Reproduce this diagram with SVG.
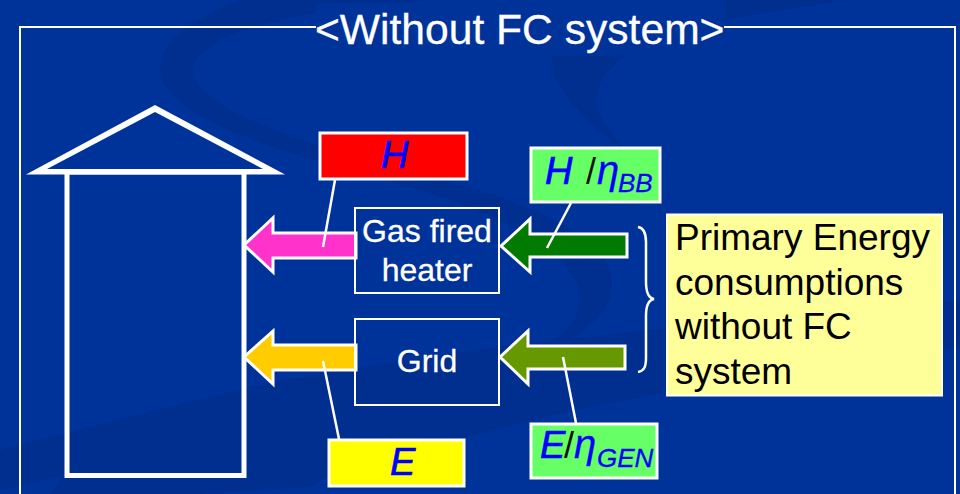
<svg xmlns="http://www.w3.org/2000/svg" width="960" height="494" viewBox="0 0 960 494">
<style>
text{font-family:"Liberation Sans",Arial,sans-serif}
.w{fill:#fff;stroke:#fff;stroke-width:.3}
.b{fill:#00f;font-style:italic;stroke:#00f;stroke-width:.7}
.box{stroke:#fff;stroke-width:3}
.out{fill:none;stroke:#fff;stroke-width:2}
.arr{stroke:#fff;stroke-width:3}
.call{stroke:#fff;stroke-width:2.5;fill:none}
.sw{fill:#002f8f}
</style>
<rect width="960" height="494" fill="#003399"/>
<g id="background">
<path class="sw" d="M240 0C195 18 160 40 160 68C160 108 240 138 320 162C400 185 500 205 560 260C592 292 585 325 543 345C575 342 608 322 612 285C612 240 540 205 440 180C320 150 193 110 193 70C193 45 250 22 320 13L430 0Z"/>
<path class="sw" d="M552 56L625 56C600 75 590 95 600 115C606 128 618 140 630 155C590 125 550 90 552 56Z"/>
<path class="sw" d="M725 20C760 14 800 6 850 0L725 0Z"/>
<path class="sw" d="M0 450C120 420 240 385 360 367C560 335 760 320 960 300L960 347C800 365 600 400 467 437C380 460 330 470 310 487L200 494H50L67 470C160 445 260 415 360 393L353 403C250 425 100 470 0 490Z"/>
</g>
<g id="frame">
<path class="out" d="M316 27H20V494M724 27H955V494"/>
<rect x="316" y="3" width="408" height="52" fill="#003399"/>
<text class="w" x="315" y="44" font-size="42.600" stroke-width=".5">&lt;Without FC system&gt;</text>
</g>
<g id="house">
<path fill="#fff" fill-rule="evenodd" d="M26 174.500L155 105L285 174.500ZM47 169L263 169L155 112Z"/>
<rect x="67" y="172" width="177" height="303.500" fill="none" stroke="#fff" stroke-width="5"/>
</g>
<g id="connectors">
<path class="arr" fill="#ff33cc" d="M356 233H273V218L244 245L273 272V258H356Z"/>
<path class="arr" fill="#ffcc00" d="M356 345H273V331L244 357L273 384V370H356Z"/>
<path class="arr" fill="#007a00" d="M627 234H530V219L501 246L530 272V257H627Z"/>
<path class="arr" fill="#669900" d="M625 346H528V331L500 357L528 384V369H625Z"/>
<path class="call" d="M335 180L323 247"/>
<path class="call" d="M571 203L547 248"/>
<path class="call" d="M323 361L339 439"/>
<path class="call" d="M563 357L576 423"/>
<path class="call" d="M638 227C644 228 646 233 646 242V282C646 292 648 298 654 299C648 300 646 306 646 316V358C646 367 644 371 638 372"/>
</g>
<g id="heater">
<rect class="out" x="355" y="208" width="144" height="85"/>
<text class="w" x="427" y="242" font-size="32" text-anchor="middle">Gas fired</text>
<text class="w" x="427" y="281" font-size="32" text-anchor="middle">heater</text>
</g>
<g id="grid">
<rect class="out" x="355" y="319" width="144" height="86"/>
<text class="w" x="427" y="372" font-size="32" text-anchor="middle">Grid</text>
</g>
<g id="label-h">
<rect class="box" x="320" y="133" width="147" height="46" fill="#ff0000"/>
<text class="b" x="381" y="168" font-size="38">H</text>
</g>
<g id="label-h-eta">
<rect class="box" x="531" y="148" width="129" height="54" fill="#66ff66"/>
<text class="b" x="545" y="184" font-size="38">H</text>
<text x="586" y="184" font-size="36" fill="#111">/</text>
<text class="b" x="597" y="184" font-size="40" style="stroke-width:.3">η</text>
<text class="b" x="618" y="192" font-size="26" style="stroke-width:.3">BB</text>
</g>
<g id="label-e">
<rect class="box" x="329" y="440" width="135" height="46" fill="#ffff00"/>
<text class="b" x="390" y="475" font-size="38">E</text>
</g>
<g id="label-e-eta">
<rect class="box" x="531" y="424" width="126" height="54" fill="#66ff66"/>
<text class="b" x="540" y="458" font-size="38">E</text>
<text x="564" y="458" font-size="36" fill="#111">/</text>
<text class="b" x="574" y="458" font-size="40" style="stroke-width:.3">η</text>
<text class="b" x="597" y="467" font-size="26" style="stroke-width:.3">GEN</text>
</g>
<g id="note">
<rect x="667" y="214.500" width="275" height="181" fill="#ffff99" stroke="#fff" stroke-width="2"/>
<g font-size="37" fill="#000">
<text x="675" y="250">Primary Energy</text>
<text x="675" y="295">consumptions</text>
<text x="675" y="339">without FC</text>
<text x="675" y="384">system</text>
</g>
</g>
</svg>
